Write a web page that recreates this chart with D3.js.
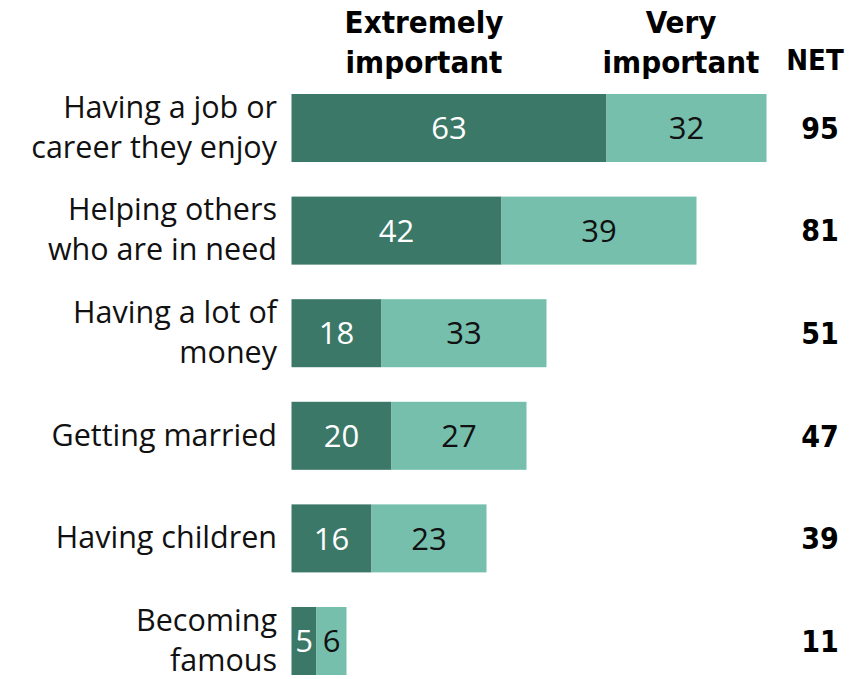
<!DOCTYPE html>
<html>
<head>
<meta charset="utf-8">
<script src="https://cdn.jsdelivr.net/npm/d3@7"></script>
<style>
  body { margin: 0; background: #fff; }
  svg { display: block; }
</style>
</head>
<body>
<div id="chart"></div>
<script>
var categories = [
  ["Having a job or", "career they enjoy"],
  ["Helping others", "who are in need"],
  ["Having a lot of", "money"],
  ["Getting married"],
  ["Having children"],
  ["Becoming", "famous"]
];
var extremely = [63, 42, 18, 20, 16, 5];
var very = [32, 39, 33, 27, 23, 6];
var net = [95, 81, 51, 47, 39, 11];
var seriesNames = [["Extremely", "important"], ["Very", "important"]];

var width = 851, height = 679;
var margin = {top: 94, left: 291.5, bottom: 4};
var dark = "#3b7868", light = "#77bfad";
var labelFont = "'Open Sans', 'Liberation Sans', sans-serif";
var headFont = "'DejaVu Sans Condensed', 'Liberation Sans', sans-serif";

var x = d3.scaleLinear().domain([0, 95]).range([margin.left, margin.left + 475]);
var y = d3.scaleBand()
    .domain(d3.range(categories.length))
    .range([margin.top, height - margin.bottom])
    .paddingInner(0.337)
    .paddingOuter(0);

var svg = d3.select("#chart").append("svg")
    .attr("width", width)
    .attr("height", height);

var rows = svg.selectAll(".row")
    .data(categories.map(function(c, i) {
      return {label: c, e: extremely[i], v: very[i], net: net[i], i: i};
    }))
  .enter().append("g")
    .attr("class", "row")
    .attr("transform", function(d) { return "translate(0," + y(d.i) + ")"; });

var bh = y.bandwidth();

rows.append("rect")
    .attr("x", x(0))
    .attr("width", function(d) { return x(d.e) - x(0); })
    .attr("height", bh)
    .attr("fill", dark);

rows.append("rect")
    .attr("x", function(d) { return x(d.e); })
    .attr("width", function(d) { return x(d.e + d.v) - x(d.e); })
    .attr("height", bh)
    .attr("fill", light);

rows.append("text")
    .attr("x", function(d) { return (x(0) + x(d.e)) / 2; })
    .attr("y", bh / 2)
    .attr("dy", "0.36em")
    .attr("text-anchor", "middle")
    .attr("fill", "#fff")
    .style("font", "31px " + labelFont)
    .text(function(d) { return d.e; });

rows.append("text")
    .attr("x", function(d) { return (x(d.e) + x(d.e + d.v)) / 2; })
    .attr("y", bh / 2)
    .attr("dy", "0.36em")
    .attr("text-anchor", "middle")
    .attr("fill", "#111")
    .style("font", "31px " + labelFont)
    .text(function(d) { return d.v; });

rows.append("text")
    .attr("x", 820)
    .attr("y", bh / 2)
    .attr("dy", "0.36em")
    .attr("text-anchor", "middle")
    .attr("fill", "#000")
    .style("font", "bold 30px " + headFont)
    .text(function(d) { return d.net; });

// category labels, one tspan per line
var lab = rows.append("text")
    .attr("text-anchor", "end")
    .attr("fill", "#111")
    .style("font", "30.5px " + labelFont);

lab.selectAll("tspan")
    .data(function(d) {
      var n = d.label.length;
      return d.label.map(function(t, j) { return {t: t, off: (j - (n - 1) / 2) * 40}; });
    })
  .enter().append("tspan")
    .attr("x", 277)
    .attr("y", function(d) { return bh / 2 + d.off; })
    .attr("dy", "0.32em")
    .text(function(d) { return d.t; });

// column headers
var headX = [424, 681];
seriesNames.forEach(function(s, k) {
  var t = svg.append("text")
      .attr("text-anchor", "middle")
      .attr("fill", "#000")
      .style("font", "bold 31px " + headFont);
  s.forEach(function(line, j) {
    t.append("tspan")
        .attr("x", headX[k])
        .attr("y", 33 + j * 40)
        .text(line);
  });
});

svg.append("text")
    .attr("x", 815)
    .attr("y", 70)
    .attr("text-anchor", "middle")
    .attr("fill", "#000")
    .style("font", "bold 29px " + headFont)
    .text("NET");
</script>
</body>
</html>
